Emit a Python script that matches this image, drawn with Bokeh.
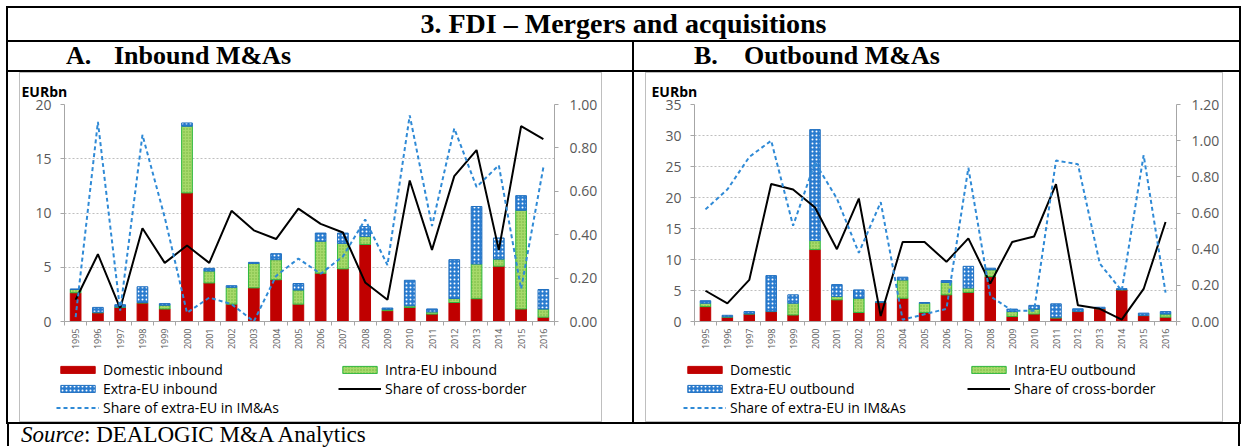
import numpy as np
from bokeh.plotting import figure
from bokeh.models import (ColumnDataSource, Range1d, LinearAxis, FixedTicker, Legend,
                          LegendItem, Div, NumeralTickFormatter)
from bokeh.layouts import column, row
from bokeh.embed import file_html
from bokeh.resources import INLINE

years = list(range(1995, 2017))

# ---- Panel A: Inbound M&As (EURbn, shares) ----
in_domestic = [2.65, 0.80, 1.30, 1.70, 1.15, 11.85, 3.55, 1.60, 3.10, 3.85, 1.60,
               4.45, 4.85, 7.10, 1.00, 1.30, 0.68, 1.75, 2.10, 5.10, 1.15, 0.40]
in_intra = [0.30, 0.05, 0.05, 0.05, 0.35, 6.15, 1.10, 1.55, 2.25, 1.85, 1.30,
            2.95, 2.35, 0.75, 0.12, 0.15, 0.20, 0.37, 3.20, 0.65, 9.10, 0.75]
in_extra = [0.05, 0.45, 0.20, 1.45, 0.15, 0.30, 0.25, 0.15, 0.10, 0.55, 0.60,
            0.75, 0.95, 0.90, 0.12, 2.35, 0.28, 3.58, 5.30, 1.95, 1.35, 1.80]
in_share_cross = [0.10, 0.31, 0.06, 0.43, 0.27, 0.35, 0.27, 0.51, 0.42, 0.38, 0.52,
                  0.45, 0.41, 0.18, 0.10, 0.65, 0.33, 0.67, 0.79, 0.33, 0.90, 0.84]
in_share_extra = [0.02, 0.92, 0.05, 0.86, 0.48, 0.04, 0.11, 0.08, 0.00, 0.21, 0.29,
                  0.22, 0.30, 0.47, 0.26, 0.95, 0.44, 0.89, 0.62, 0.72, 0.15, 0.71]
in_labels = ["Domestic inbound", "Intra-EU inbound", "Extra-EU inbound",
             "Share of cross-border", "Share of extra-EU in IM&As"]

# ---- Panel B: Outbound M&As ----
out_domestic = [2.40, 0.70, 1.20, 1.60, 1.05, 11.60, 3.50, 1.45, 3.05, 3.75, 1.45,
                4.30, 4.70, 7.25, 0.80, 1.20, 0.55, 1.60, 2.05, 5.10, 0.95, 0.70]
out_intra = [0.55, 0.05, 0.05, 0.05, 1.90, 1.45, 0.55, 2.30, 0.05, 2.95, 1.50,
             2.00, 0.70, 1.10, 0.80, 0.80, 0.15, 0.05, 0.05, 0.05, 0.05, 0.50]
out_extra = [0.40, 0.25, 0.35, 5.75, 1.35, 17.90, 1.90, 1.35, 0.10, 0.45, 0.10,
             0.30, 3.50, 0.25, 0.40, 0.60, 2.15, 0.40, 0.20, 0.15, 0.35, 0.40]
out_share_cross = [0.17, 0.10, 0.23, 0.76, 0.73, 0.63, 0.40, 0.68, 0.03, 0.44, 0.44,
                   0.33, 0.46, 0.21, 0.44, 0.47, 0.76, 0.09, 0.07, 0.01, 0.18, 0.55]
out_share_extra = [0.62, 0.73, 0.91, 1.00, 0.53, 0.88, 0.68, 0.38, 0.66, 0.01, 0.04,
                   0.07, 0.85, 0.14, 0.06, 0.06, 0.89, 0.87, 0.32, 0.17, 0.92, 0.16]
out_labels = ["Domestic", "Intra-EU outbound", "Extra-EU outbound",
              "Share of cross-border", "Share of extra-EU in IM&As"]

FONT = "Open Sans"
GRAY_TXT = "#595959"
AXIS_GRAY = "#A6A6A6"

DOM_STYLE = dict(fill_color="#C00000", line_color="#C00000", line_width=1)
INTRA_STYLE = dict(fill_color="#A6D96A", line_color="#2DB83D", line_width=1,
                   hatch_pattern="dot", hatch_color="#6FB33A", hatch_scale=3, hatch_weight=1)
EXTRA_STYLE = dict(fill_color="#2A7CCF", line_color="#1F6FC0", line_width=1,
                   hatch_pattern="dot", hatch_color="white", hatch_scale=4, hatch_weight=2)
CROSS_STYLE = dict(line_color="black", line_width=2)
SHEXT_STYLE = dict(line_color="#2F8AD6", line_width=2, line_dash="4 3")


def add_glyphs(p, src, visible=True):
    w = 0.48
    rd = p.vbar(x="x", width=w, bottom=0, top="d_top", source=src, visible=visible, **DOM_STYLE)
    ri = p.vbar(x="x", width=w, bottom="i_bot", top="i_top", source=src, visible=visible,
                **INTRA_STYLE)
    re_ = p.vbar(x="x", width=w, bottom="e_bot", top="e_top", source=src, visible=visible,
                 **EXTRA_STYLE)
    rc = p.line(x="x", y="cross", source=src, y_range_name="share", visible=visible,
                **CROSS_STYLE)
    rs = p.line(x="x", y="shext", source=src, y_range_name="share", visible=visible,
                **SHEXT_STYLE)
    return [rd, ri, re_, rc, rs]


def legend_block(items, x, y):
    return Legend(items=items, orientation="vertical", location=(x, y),
                  margin=0, padding=0, spacing=0, label_height=19,
                  glyph_width=43, glyph_height=9, label_standoff=4,
                  label_text_font=FONT, label_text_font_size="14px",
                  label_text_color="black", border_line_color=None,
                  background_fill_alpha=0)


def make_chart(dom, intra, extra, cross, shext, labels, ymax, yticks, smax, sticks,
               width, ml, mr, x1, x2, box_margin):
    dom = np.array(dom); intra = np.array(intra); extra = np.array(extra)
    src = ColumnDataSource(dict(
        x=years,
        d_top=dom,
        i_bot=dom, i_top=dom + intra,
        e_bot=dom + intra, e_top=dom + intra + extra,
        cross=cross, shext=shext,
    ))
    p = figure(width=width, height=282, x_range=Range1d(1994.5, 2016.5),
               y_range=Range1d(0, ymax), output_backend="svg", toolbar_location=None,
               min_border_left=ml, min_border_right=mr, min_border_top=31,
               min_border_bottom=34, title="EURbn", outline_line_color=None,
               background_fill_color="white", border_fill_color="white", margin=0)
    p.extra_y_ranges = {"share": Range1d(0, smax)}

    p.title.text_font = FONT
    p.title.text_font_size = "14px"
    p.title.text_font_style = "bold"
    p.title.text_color = "black"
    p.title.align = "left"
    p.title.offset = -43
    p.title.standoff = 8

    add_glyphs(p, src)

    # grid
    p.xgrid.grid_line_color = None
    p.ygrid.ticker = FixedTicker(ticks=yticks[1:])
    p.ygrid.grid_line_color = "#BFBFBF"
    p.ygrid.grid_line_dash = "2 2"

    # x axis
    xa = p.xaxis[0]
    xa.ticker = FixedTicker(ticks=years, minor_ticks=[y - 0.5 for y in years] + [2016.5])
    xa.major_tick_out = 0
    xa.major_tick_in = 0
    xa.minor_tick_out = 4
    xa.minor_tick_in = 0
    xa.minor_tick_line_color = AXIS_GRAY
    xa.axis_line_color = AXIS_GRAY
    xa.major_label_orientation = np.pi / 2
    xa.major_label_text_font = FONT
    xa.major_label_text_font_size = "9px"
    xa.major_label_text_color = GRAY_TXT
    xa.major_label_standoff = 3

    # left axis
    ya = p.yaxis[0]
    ya.ticker = FixedTicker(ticks=yticks)
    ya.minor_tick_line_color = None
    ya.major_tick_out = 4
    ya.major_tick_in = 0
    ya.major_tick_line_color = AXIS_GRAY
    ya.axis_line_color = AXIS_GRAY
    ya.major_label_text_font = FONT
    ya.major_label_text_font_size = "14px"
    ya.major_label_text_color = GRAY_TXT
    ya.major_label_standoff = 9

    # right axis
    ra = LinearAxis(y_range_name="share", ticker=FixedTicker(ticks=sticks),
                    formatter=NumeralTickFormatter(format="0.00"))
    ra.minor_tick_line_color = None
    ra.major_tick_out = 4
    ra.major_tick_in = 0
    ra.major_tick_line_color = AXIS_GRAY
    ra.axis_line_color = AXIS_GRAY
    ra.major_label_text_font = FONT
    ra.major_label_text_font_size = "14px"
    ra.major_label_text_color = GRAY_TXT
    ra.major_label_standoff = 11
    p.add_layout(ra, "right")

    # legend strip (separate canvas sharing the same data source)
    lf = figure(width=width, height=66, x_range=Range1d(0, 1), y_range=Range1d(0, 1),
                output_backend="svg", toolbar_location=None, min_border=0,
                x_axis_type=None, y_axis_type=None, outline_line_color=None,
                background_fill_color="white", border_fill_color="white", margin=0)
    aligned_ok = True
    try:
        lf.frame_align = False
        p.frame_align = False
    except AttributeError:
        aligned_ok = False
    lf.extra_y_ranges = {"share": Range1d(0, 1)}
    lf.grid.visible = False
    rs = add_glyphs(lf, src, visible=False)
    col1 = [LegendItem(label=labels[i], renderers=[rs[i]]) for i in (0, 2, 4)]
    col2 = [LegendItem(label=labels[i], renderers=[rs[i]]) for i in (1, 3)]
    lf.add_layout(legend_block(col1, x1, 4), "center")
    lf.add_layout(legend_block(col2, x2, 23), "center")

    lower = lf if aligned_ok else row(lf, margin=0)
    box = column(p, lower, margin=box_margin,
                 styles={"outline": "1px solid #BFBFBF", "outline-offset": "0px"})
    return box


boxA = make_chart(in_domestic, in_intra, in_extra, in_share_cross, in_share_extra, in_labels,
                  20, [0, 5, 10, 15, 20], 1.0, [0, 0.2, 0.4, 0.6, 0.8, 1.0],
                  581, 44, 47, 36, 318, (2, 32, 2, 13))
boxB = make_chart(out_domestic, out_intra, out_extra, out_share_cross, out_share_extra, out_labels,
                  35, [0, 5, 10, 15, 20, 25, 30, 35], 1.2, [0, 0.2, 0.4, 0.6, 0.8, 1.0, 1.2],
                  576, 48, 45, 37, 321, (2, 18, 2, 13))

BLACK_BOX = {"outline": "2px solid black", "outline-offset": "-1px"}
SERIF = "'Liberation Serif', 'Times New Roman', serif"

title = Div(text="3. FDI – Mergers and acquisitions", width=1233, height=34, margin=0,
            styles=dict(BLACK_BOX, **{"font-family": SERIF, "font-weight": "bold",
                                      "font-size": "28px", "line-height": "34px",
                                      "text-align": "center", "color": "black"}))
sub_style = dict(BLACK_BOX, **{"font-family": SERIF, "font-weight": "bold",
                               "font-size": "26px", "line-height": "30px", "color": "black"})
subA = Div(text='<span style="margin-left:59px;display:inline-block;width:48px">A.</span>Inbound M&amp;As',
           width=626, height=30, margin=0, styles=sub_style)
subB = Div(text='<span style="margin-left:61px;display:inline-block;width:50px">B.</span>Outbound M&amp;As',
           width=607, height=30, margin=0, styles=sub_style)

cellA = column(boxA, styles=BLACK_BOX, margin=0)
cellB = column(boxB, styles=BLACK_BOX, margin=0)

source = Div(text='<span style="margin-left:12px"><i>Source</i>: DEALOGIC M&amp;A Analytics</span>',
             width=1233, height=23, margin=0,
             styles={"font-family": SERIF, "font-size": "23px", "line-height": "23px",
                     "color": "black", "border-left": "2px solid black",
                     "border-right": "2px solid black", "box-sizing": "border-box"})

layout = column(title, row(subA, subB, margin=0), row(cellA, cellB, margin=0), source,
                margin=(7, 0, 0, 7))

open("out.html", "w").write(file_html(layout, INLINE))
